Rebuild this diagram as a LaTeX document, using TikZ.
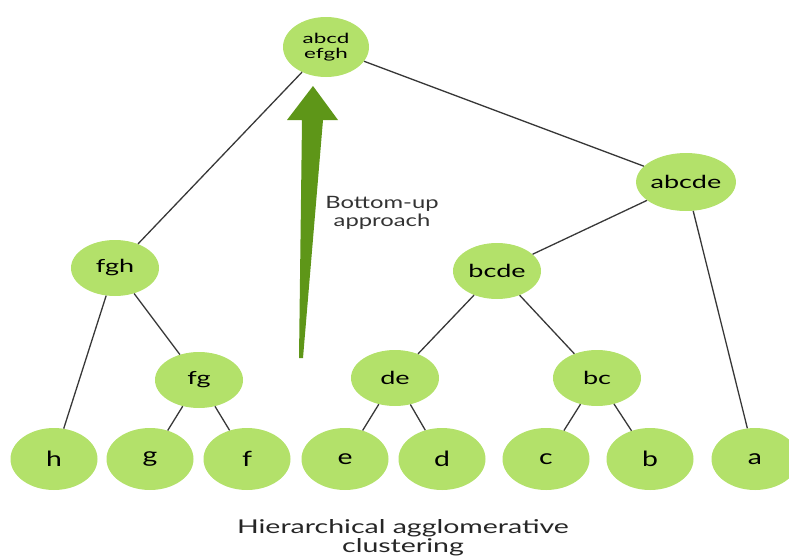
\documentclass[tikz,border=0pt]{standalone}
\usepackage{fontspec}
\usepackage{graphicx}
\setmainfont{Lato}
\newcommand{\stretchtxt}[2]{\scalebox{#1}[1]{#2}}
\begin{document}
\begin{tikzpicture}[x=1pt,y=-1pt,
  cl/.style={ellipse, fill=nodegreen, minimum width=87pt, minimum height=62pt, inner sep=0pt, font=\fontsize{21}{22}\selectfont},
  mid/.style={cl, minimum width=88pt, minimum height=56pt, font=\fontsize{18}{19}\selectfont},
  edge/.style={draw=black!78, line width=1.3pt}]
\usetikzlibrary{shapes.geometric}
\definecolor{nodegreen}{HTML}{B3E16A}
\definecolor{arrowgreen}{HTML}{5E9618}
\useasboundingbox (0,0) rectangle (789,557);
\node[cl] (h) at (54,459) {\stretchtxt{1.35}{h}};
\node[cl] (g) at (150,459) {\stretchtxt{1.35}{g}};
\node[cl] (f) at (247,459) {\stretchtxt{1.35}{f}};
\node[cl] (e) at (345,459) {\stretchtxt{1.35}{e}};
\node[cl] (d) at (442,459) {\stretchtxt{1.35}{d}};
\node[cl] (c) at (546,459) {\stretchtxt{1.35}{c}};
\node[cl] (b) at (650,459) {\stretchtxt{1.35}{b}};
\node[cl] (a) at (755,459) {\stretchtxt{1.35}{a}};
\node[mid] (fg) at (199,380) {\stretchtxt{1.5}{fg}};
\node[mid] (de) at (395,378) {\stretchtxt{1.5}{de}};
\node[mid] (bc) at (597,378) {\stretchtxt{1.5}{bc}};
\node[mid] (fgh) at (115,268) {\stretchtxt{1.5}{fgh}};
\node[mid] (bcde) at (497,271) {\stretchtxt{1.5}{bcde}};
\node[mid, minimum height=58pt] (abcde) at (686,182) {\stretchtxt{1.5}{abcde}};
\node[cl, minimum width=86pt, minimum height=60pt, align=center, font=\fontsize{14}{15}\selectfont] (top) at (326,47) {\stretchtxt{1.6}{abcd}\\\stretchtxt{1.6}{efgh}};
\draw[edge] (top) -- (fgh);
\draw[edge] (top) -- (abcde);
\draw[edge] (fgh) -- (h);
\draw[edge] (fgh) -- (fg);
\draw[edge] (fg) -- (g);
\draw[edge] (fg) -- (f);
\draw[edge] (abcde) -- (bcde);
\draw[edge] (abcde) -- (a);
\draw[edge] (bcde) -- (de);
\draw[edge] (bcde) -- (bc);
\draw[edge] (de) -- (e);
\draw[edge] (de) -- (d);
\draw[edge] (bc) -- (c);
\draw[edge] (bc) -- (b);
\coordinate (tail) at (301,358);
\coordinate (tip) at (313,86);
\fill[arrowgreen] (tail) -- (299,358) -- (302,120) -- (287,120) -- (tip) -- (338,120) -- (323,120) -- (303,358) -- cycle;
\node[align=center, font=\fontsize{17}{18}\selectfont, text=black!80] (lbl) at (382,213) {\stretchtxt{1.4}{Bottom-up}\\\stretchtxt{1.4}{approach}};
\node[align=center, font=\fontsize{19}{19}\selectfont, text=black!85] (cap) at (403,538) {\stretchtxt{1.5}{Hierarchical agglomerative}\\\stretchtxt{1.5}{clustering}};
\end{tikzpicture}
\end{document}
